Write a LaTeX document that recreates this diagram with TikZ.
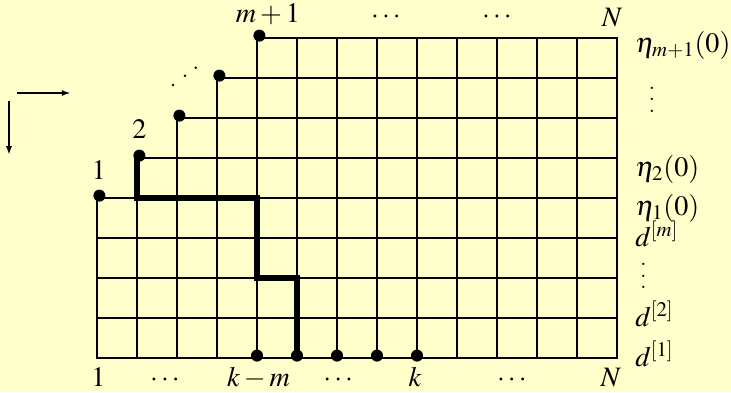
\documentclass[tikz,border=0pt]{standalone}
\usepackage{mathptmx}
\usetikzlibrary{arrows.meta}
\definecolor{bgyellow}{HTML}{FFFFCC}
\newcommand{\myvdots}{\vbox{\baselineskip8pt\lineskiplimit0pt\hbox{.}\hbox{.}\hbox{.}}}
\begin{document}
\begin{tikzpicture}[x=1cm,y=1cm, font=\fontsize{20}{24}\selectfont,
  gridline/.style={line width=1.4226pt, line cap=rect},
  pathline/.style={line width=3.6pt, line cap=rect, line join=miter},
  lbl/.style={inner sep=0pt, anchor=base},
  rlbl/.style={inner sep=0pt, anchor=base west},
  dotmark/.style={circle, fill=black, inner sep=0pt, minimum size=0.3cm},
  smalldot/.style={circle, fill=black, inner sep=0pt, minimum size=0.07cm},
  axisarrow/.style={line width=1.4226pt, -{Latex[length=2.2mm,width=1.5mm]}}]
\fill[bgyellow] (-2.425,-0.85) rectangle (15.85,8.95);
\useasboundingbox (-2.425,-0.85) rectangle (15.85,8.95);
% grid
\foreach \j in {0,...,8}{
  \pgfmathtruncatemacro\rs{max(0,\j-4)}
  \draw[gridline] (\rs,\j) -- (13,\j);
}
\foreach \i in {0,...,13}{
  \pgfmathtruncatemacro\ct{min(8,\i+4)}
  \draw[gridline] (\i,0) -- (\i,\ct);
}
% thick path
\coordinate (p0) at (1,5);
\coordinate (p1) at (1,4);
\coordinate (p2) at (4,4);
\coordinate (p3) at (4,2);
\coordinate (p4) at (5,2);
\coordinate (p5) at (5,0);
\draw[pathline] (p0) -- (p1) -- (p2) -- (p3) -- (p4) -- (p5);
% dots on staircase
\foreach \i in {0,...,4}{
  \node[dotmark] (s\i) at ({\i+0.06},{\i+4.06}) {};
}
% dots on bottom
\foreach \i in {4,...,8}{
  \node[dotmark] (b\i) at (\i,0.06) {};
}
% diagonal dots
\node[smalldot] (dd1) at (1.9,6.825) {};
\node[smalldot] (dd2) at (2.2,7.058) {};
\node[smalldot] (dd3) at (2.468,7.258) {};
% top labels
\node[lbl] (tm) at (4.275,8.4) {$m+1$};
\node[lbl] (tc1) at (7.225,8.375) {$\cdots$};
\node[lbl] (tc2) at (10.0,8.375) {$\cdots$};
\node[lbl] (tN) at (12.875,8.283) {$N$};
% left labels
\node[lbl] (l1) at (0.05,4.468) {$1$};
\node[lbl] (l2) at (1.0625,5.49) {$2$};
% right labels
\node[rlbl] (r1) at (13.45,7.643) {$\eta_{m+1}(0)$};
\node[inner sep=0pt] (rv1) at (13.87,6.458) {\myvdots};
\node[rlbl] (r2) at (13.45,4.533) {$\eta_{2}(0)$};
\node[rlbl] (r3) at (13.45,3.575) {$\eta_{1}(0)$};
\node[rlbl] (r4) at (13.45,2.783) {$d^{[m]}$};
\node[inner sep=0pt] (rv2) at (13.66,2.053) {\myvdots};
\node[rlbl] (r5) at (13.45,0.783) {$d^{[2]}$};
\node[rlbl] (r6) at (13.45,-0.218) {$d^{[1]}$};
% bottom labels
\node[lbl] (bl1) at (0.0325,-0.718) {$1$};
\node[lbl] (bc1) at (1.7,-0.718) {$\cdots$};
\node[lbl] (bkm) at (4.0375,-0.718) {$k-m$};
\node[lbl] (bc2) at (6.03,-0.718) {$\cdots$};
\node[lbl] (bk) at (7.95,-0.718) {$k$};
\node[lbl] (bc3) at (10.37,-0.718) {$\cdots$};
\node[lbl] (bN) at (12.845,-0.718) {$N$};
% direction arrows
\coordinate (ha) at (-2.0,6.625);
\coordinate (hb) at (-0.658,6.625);
\coordinate (va) at (-2.2,6.425);
\coordinate (vb) at (-2.2,5.075);
\draw[axisarrow] (ha) -- (hb);
\draw[axisarrow] (va) -- (vb);
\end{tikzpicture}
\end{document}
